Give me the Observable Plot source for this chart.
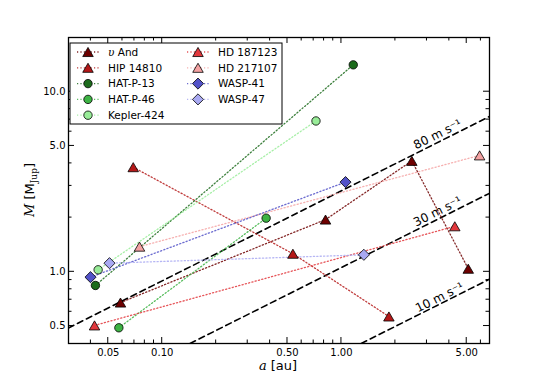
<!DOCTYPE html>
<html><head><meta charset="utf-8">
<script src="https://cdn.jsdelivr.net/npm/d3@7"></script>
<script src="https://cdn.jsdelivr.net/npm/@observablehq/plot@0.6"></script>
<style>body{margin:0;background:#fff} svg{font-family:"DejaVu Sans",sans-serif}</style>
</head><body><div id="chart"></div>
<script>
const systemNames = ["υ And","HIP 14810","HAT-P-13","HAT-P-46","Kepler-424","HD 187123","HD 217107","WASP-41","WASP-47"];
const systemColors = ["#6e0000","#b41818","#1c6b1c","#3db344","#98ec98","#e2373c","#f4a2a2","#5252c8","#a9a9f2"];
const systemSymbols = ["triangle","triangle","circle","circle","circle","triangle","triangle","diamond2","diamond2"];
const semiMajorAxes = [[0.0585,0.815,2.47,5.10],[0.0689,0.536,1.84],[0.0424,1.164],[0.0573,0.380],[0.0439,0.721],[0.0419,4.29],[0.0747,5.90],[0.0398,1.054],[0.0508,1.334]];
const planetMasses = [[0.675,1.95,4.13,1.04],[3.81,1.26,0.565],[0.84,14.1],[0.489,1.986],[1.026,6.88],[0.504,1.79],[1.38,4.43],[0.934,3.15],[1.117,1.243]];
const xTickValues = [0.05,0.1,0.5,1,5];
const xTickLabels = ["0.05","0.10","0.50","1.00","5.00"];
const xMinorTicks = [0.04,0.06,0.07,0.08,0.09,0.2,0.3,0.4,0.6,0.7,0.8,0.9,2,3,4,6];
const yTickValues = [0.5,1,5,10];
const yTickLabels = ["0.5","1.0","5.0","10.0"];
const yMinorTicks = [0.6,0.7,0.8,0.9,2,3,4,6,7,8,9];
const rvSemiAmplitudes = [80,30,10];
const rvLineA = [[0.03,6.7],[0.143,6.7],[1.29,6.7]];
const rvLineM = [[0.488,7.29],[0.40,2.73],[0.40,0.911]];
const rvLabelA = [3.44,3.44,3.53];
const rvLabelM = [5.79,2.16,0.72];

const planetRows = systemNames.flatMap((name,i)=>semiMajorAxes[i].map((a,j)=>({name,a,m:planetMasses[i][j],color:systemColors[i],symbol:systemSymbols[i]})));
const rvRows = rvSemiAmplitudes.flatMap((k,i)=>rvLineA[i].map((a,j)=>({k,a,m:rvLineM[i][j]})));
const rvLabels = rvSemiAmplitudes.map((k,i)=>({text:`${k} m s⁻¹`,a:rvLabelA[i],m:rvLabelM[i]}));
const xLabelRows = xTickValues.map((v,i)=>({v,label:xTickLabels[i]}));
const yLabelRows = yTickValues.map((v,i)=>({v,label:yTickLabels[i]}));

const W = 545, H = 382, ML = 68, MR = 56, MT = 37, MB = 39;
const MAJ = 6, MIN = 3.5;
const symR = {triangle:3.9, circle:4.2, diamond2:5};
const symDy = {triangle:1.5, circle:0, diamond2:0};
const dotMarks = ["triangle","circle","diamond2"].map(s=>Plot.dot(planetRows.filter(d=>d.symbol===s),{x:"a",y:"m",symbol:s,r:symR[s],dy:symDy[s],fill:"color",stroke:"black",strokeWidth:0.8}));
const plot = Plot.plot({
  width:W, height:H, marginLeft:ML, marginRight:MR, marginTop:MT, marginBottom:MB,
  style:{fontFamily:"DejaVu Sans",fontSize:"10px",background:"white",color:"black"},
  x:{type:"log",domain:[0.03,6.7],label:null,axis:null},
  y:{type:"log",domain:[0.4,20],label:null,axis:null},
  color:{type:"identity"},
  marks:[
    Plot.line(rvRows,{x:"a",y:"m",z:"k",stroke:"black",strokeWidth:1.6,strokeDasharray:"6,4",clip:true}),
    Plot.text(rvLabels,{x:"a",y:"m",text:"text",rotate:-26.57,fontSize:12,fill:"black"}),
    Plot.line(planetRows,{x:"a",y:"m",z:"name",stroke:"color",strokeWidth:1.3,strokeDasharray:"1.2,2.2",strokeOpacity:0.85}),
    ...dotMarks,
    Plot.text(xLabelRows,{x:"v",text:"label",frameAnchor:"bottom",lineAnchor:"top",dy:5.4,fontSize:10,fill:"black"}),
    Plot.text(yLabelRows,{y:"v",text:"label",frameAnchor:"left",textAnchor:"end",dx:-3,fontSize:10,fill:"black"}),
    Plot.frame({stroke:"black",strokeWidth:1.3})
  ]
});
document.getElementById("chart").appendChild(plot);
const svg = d3.select(plot);
const xs = plot.scale("x"), ys = plot.scale("y");

// inward ticks on all four sides, positioned through Plot's scales
const tg = svg.append("g").attr("stroke","black").attr("stroke-width",1);
const x0p = ML, x1p = W-MR, y0p = MT, y1p = H-MB;
[[xTickValues,MAJ],[xMinorTicks,MIN]].forEach(([vals,len])=>vals.forEach(v=>{
  const px = xs.apply(v);
  tg.append("line").attr("x1",px).attr("x2",px).attr("y1",y1p).attr("y2",y1p-len);
  tg.append("line").attr("x1",px).attr("x2",px).attr("y1",y0p).attr("y2",y0p+len);
}));
[[yTickValues,MAJ],[yMinorTicks,MIN]].forEach(([vals,len])=>vals.forEach(v=>{
  const py = ys.apply(v);
  tg.append("line").attr("y1",py).attr("y2",py).attr("x1",x0p).attr("x2",x0p+len);
  tg.append("line").attr("y1",py).attr("y2",py).attr("x1",x1p).attr("x2",x1p-len);
}));

// axis labels
const xl = svg.append("text").attr("x",278).attr("y",370).attr("text-anchor","middle").attr("font-size",13).attr("fill","black");
xl.append("tspan").attr("font-family","DejaVu Serif").attr("font-style","italic").text("a");
xl.append("tspan").attr("font-family","DejaVu Sans").text(" [au]");
const yl = svg.append("text").attr("transform","translate(34,190) rotate(-90)").attr("text-anchor","middle").attr("font-size",13).attr("fill","black");
yl.append("tspan").attr("font-family","DejaVu Serif").attr("font-style","italic").text("M");
yl.append("tspan").attr("font-family","DejaVu Sans").text(" [M");
yl.append("tspan").attr("font-family","DejaVu Serif").attr("font-size",9).attr("dy",3).text("Jup");
yl.append("tspan").attr("font-family","DejaVu Sans").attr("dy",-3).text("]");

// legend
const lg = svg.append("g");
lg.append("rect").attr("x",70).attr("y",43).attr("width",212).attr("height",81).attr("fill","white").attr("stroke","black").attr("stroke-width",1);
const symType = {triangle:d3.symbolTriangle, circle:d3.symbolCircle, diamond2:d3.symbolDiamond2};
systemNames.forEach((name,i)=>{
  const col = i<5?0:1, row = i<5?i:i-5;
  const lx = col===0?77:187, ly = 52+15.8*row;
  const s = systemSymbols[i];
  lg.append("line").attr("x1",lx).attr("x2",lx+22).attr("y1",ly).attr("y2",ly).attr("stroke",systemColors[i]).attr("stroke-width",1.3).attr("stroke-dasharray","1.2,2.2").attr("stroke-opacity",0.85);
  lg.append("path").attr("d",d3.symbol(symType[s],Math.PI*symR[s]*symR[s])()).attr("transform",`translate(${lx+11},${ly+symDy[s]})`).attr("fill",systemColors[i]).attr("stroke","black").attr("stroke-width",0.8);
  const t = lg.append("text").attr("x",lx+31).attr("y",ly).attr("dy","0.36em").attr("text-anchor","start").attr("font-size",10.5).attr("fill","black");
  if(name.startsWith("υ")){
    t.append("tspan").attr("font-family","DejaVu Serif").attr("font-style","italic").text("υ");
    t.append("tspan").text(" And");
  } else t.text(name);
});
</script>
</body></html>
